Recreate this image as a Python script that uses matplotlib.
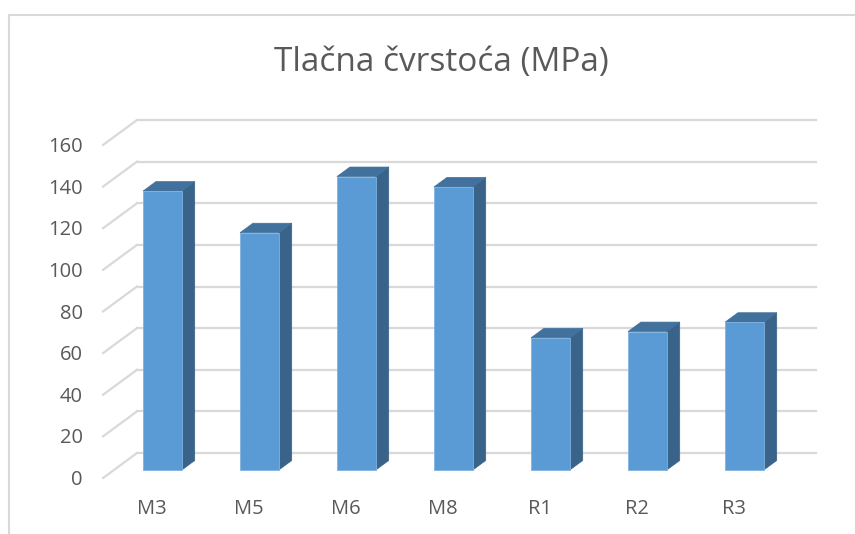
import matplotlib.pyplot as plt
from matplotlib.patches import Polygon
from matplotlib.lines import Line2D

# Data
categories = ["M3", "M5", "M6", "M8", "R1", "R2", "R3"]
values = [134, 114, 141, 136, 63.5, 66.5, 71]
y_ticks = [0, 20, 40, 60, 80, 100, 120, 140, 160]
title = "Tlačna čvrstoća (MPa)"

plt.rcParams["font.family"] = ["Open Sans", "DejaVu Sans"]

# oblique depth offset of the front plane (data units)
DX, DY = -0.35, -12.0
BAR_HALF = 0.2
BAR_D0, BAR_D1 = 0.32, 0.70

front_col = "#5B9BD5"
side_col = "#3A6389"
top_col = "#41719C"
grid_col = "#d9d9d9"
text_col = "#595959"


def proj(x, v, d):
    # d = 0 front, d = 1 back wall
    return (x + (1 - d) * DX, v + (1 - d) * DY)


fig = plt.figure(figsize=(8.55, 5.34), dpi=100)
ax = fig.add_axes([137 / 855, 81 / 534, 679 / 855, 333 / 534])
ax.set_xlim(-0.5, len(categories) - 0.5)
ax.set_ylim(0, 160)
ax.axis("off")

x0, x1 = -0.5, len(categories) - 0.5

# gridlines: back wall + left side wall
for v in y_ticks:
    ax.plot([x0, x1], [v, v], color=grid_col, lw=1.6, clip_on=False, zorder=1)
    fx, fy = proj(x0, v, 0)
    ax.plot([fx, x0], [fy, v], color=grid_col, lw=1.6, clip_on=False, zorder=1)
    ax.text(fx - 0.21, fy - 1, str(v), ha="right", va="center",
            fontsize=14.5, color=text_col)

# 3D-like columns
for i, val in enumerate(values):
    l, r = i - BAR_HALF, i + BAR_HALF
    front = [proj(l, 0, BAR_D0), proj(r, 0, BAR_D0),
             proj(r, val, BAR_D0), proj(l, val, BAR_D0)]
    side = [proj(r, 0, BAR_D0), proj(r, 0, BAR_D1),
            proj(r, val, BAR_D1), proj(r, val, BAR_D0)]
    top = [proj(l, val, BAR_D0), proj(r, val, BAR_D0),
           proj(r, val, BAR_D1), proj(l, val, BAR_D1)]
    ax.add_patch(Polygon(side, closed=True, fc=side_col, ec=side_col,
                         lw=0.5, clip_on=False, zorder=3))
    ax.add_patch(Polygon(top, closed=True, fc=top_col, ec=top_col,
                         lw=0.5, clip_on=False, zorder=3))
    ax.add_patch(Polygon(front, closed=True, fc=front_col, ec="#7fb2e0",
                         lw=0.6, clip_on=False, zorder=4))
    lx, ly = proj(i, 0, 0)
    ax.text(lx, ly - 15, categories[i], ha="center", va="center",
            fontsize=14.5, color=text_col)

fig.text(441 / 855, 1 - 63 / 534, title, ha="center", va="center",
         fontsize=24, color=text_col)

# chart border (light frame)
fig.add_artist(Line2D([9 / 855, 1], [1 - 15 / 534] * 2, color=grid_col, lw=1.5))
fig.add_artist(Line2D([9 / 855] * 2, [0, 1 - 15 / 534], color=grid_col, lw=1.5))

fig.savefig("out.png", dpi=100)
